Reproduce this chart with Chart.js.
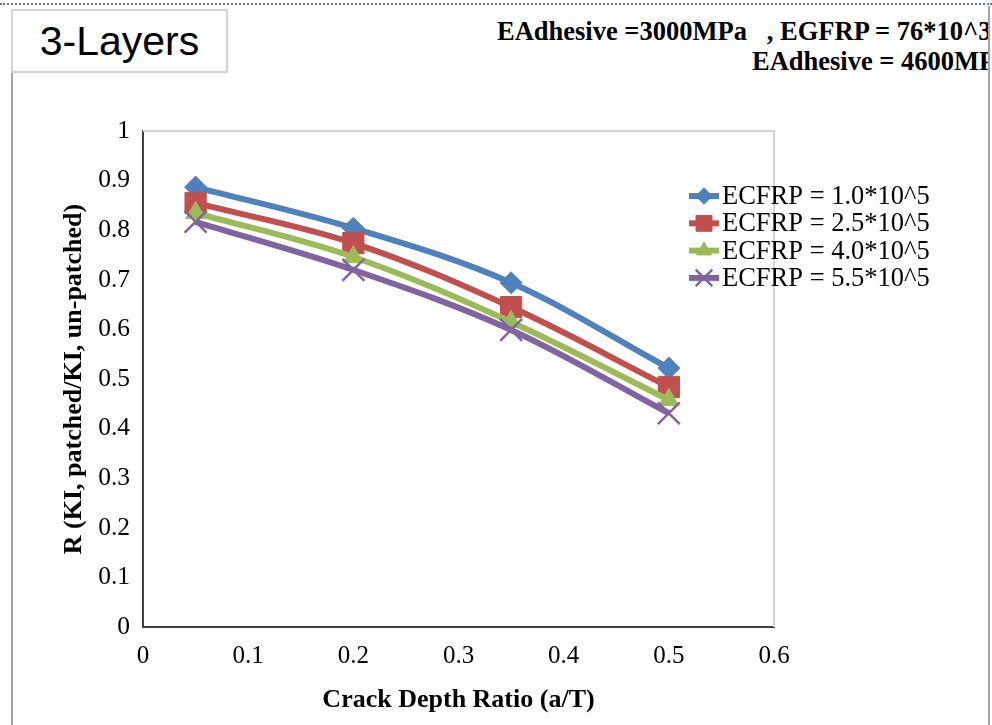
<!DOCTYPE html>
<html>
<head>
<meta charset="utf-8">
<script src="https://cdn.jsdelivr.net/npm/chart.js@4.4.0/dist/chart.umd.min.js"></script>
<style>
  body { margin: 0; background: #fff; }
  #wrap { position: relative; width: 992px; height: 725px; overflow: hidden; }
  .topline { position: absolute; left: 0; top: 3px; width: 992px; border-top: 2px dotted #6b7585; }
  .frameL { position: absolute; left: 11px; top: 72px; width: 2px; height: 660px; background: #a6a6a6; }
  .frameR { position: absolute; left: 988px; top: 6px; width: 2px; height: 720px; background: #a6a6a6; }
  .layers { position: absolute; left: 11px; top: 9px; width: 213px; height: 60px; border: 2px solid #d4d4d4;
            font: 41px 'Liberation Sans', Arial, sans-serif; color: #000; text-align: center; line-height: 60px; background: #fff; }
  .note { position: absolute; left: 0; top: 0; width: 988px; height: 90px; overflow: hidden; }
  .note div { position: absolute; white-space: pre; font: bold 26.5px 'Liberation Serif', 'Times New Roman', serif; color: #000; line-height: 26px; }
  canvas { position: absolute; left: 0; top: 0; }
</style>
</head>
<body>
<div id="wrap">
  <div class="topline"></div>
  <div class="frameL"></div>
  <div class="frameR"></div>
  <div class="layers">3-Layers</div>
  <div class="note">
    <div style="left:497px; top:18px;">EAdhesive =3000MPa   , EGFRP = 76*10^3</div>
    <div style="left:752px; top:48px;">EAdhesive = 4600MPa</div>
  </div>
  <canvas id="grafico" width="992" height="725"></canvas>
</div>
<script>
// dados
const razaoTrinca = [0.05, 0.2, 0.35, 0.5];
const rotulos = ['ECFRP = 1.0*10^5', 'ECFRP = 2.5*10^5', 'ECFRP = 4.0*10^5', 'ECFRP = 5.5*10^5'];
const serie10 = [0.887, 0.804, 0.694, 0.522];
const serie25 = [0.855, 0.774, 0.645, 0.484];
const serie40 = [0.835, 0.746, 0.615, 0.458];
const serie55 = [0.817, 0.720, 0.599, 0.431];
const ticksX = [0, 0.1, 0.2, 0.3, 0.4, 0.5, 0.6];
const ticksY = [0, 0.1, 0.2, 0.3, 0.4, 0.5, 0.6, 0.7, 0.8, 0.9, 1];

const cores = ['#4F81BD', '#C0504D', '#9BBB59', '#8064A2'];
const estilos = ['rectRot', 'rect', 'triangle', 'crossRot'];
const raios = [11, 15, 11.5, 15.5];
const bordas = [1, 1, 1, 2.5];
const series = [serie10, serie25, serie40, serie55];

const fonteSerif = "'Liberation Serif', 'Times New Roman', serif";

function montarDataset(i) {
    return {
        label: rotulos[i],
        data: razaoTrinca.map((x, k) => ({ x: x, y: series[i][k] })),
        borderColor: cores[i],
        backgroundColor: cores[i],
        borderWidth: 6,
        tension: 0.35,
        pointStyle: estilos[i],
        pointRadius: raios[i],
        pointHoverRadius: raios[i],
        pointBorderWidth: bordas[i],
        pointBackgroundColor: cores[i],
        pointBorderColor: cores[i],
        order: 4 - i,
        clip: false
    };
}

// borda clara superior e direita da área do gráfico
const bordaArea = {
    id: 'bordaArea',
    beforeDatasetsDraw(chart) {
        const a = chart.chartArea;
        const ctx = chart.ctx;
        ctx.save();
        ctx.strokeStyle = '#d4d4d4';
        ctx.lineWidth = 2;
        ctx.beginPath();
        ctx.moveTo(a.left, a.top);
        ctx.lineTo(a.right, a.top);
        ctx.lineTo(a.right, a.bottom);
        ctx.stroke();
        ctx.restore();
    }
};

// legenda desenhada sobre a área, como no original
const legendaPropria = {
    id: 'legendaPropria',
    afterDraw(chart) {
        const ctx = chart.ctx;
        ctx.save();
        chart.data.datasets.forEach((ds, i) => {
            const y = 196 + i * 27.3;
            ctx.strokeStyle = ds.borderColor;
            ctx.lineWidth = 6;
            ctx.beginPath();
            ctx.moveTo(689, y);
            ctx.lineTo(719, y);
            ctx.stroke();
            ctx.fillStyle = ds.borderColor;
            ctx.lineWidth = ds.pointBorderWidth;
            Chart.helpers.drawPoint(ctx, {
                pointStyle: ds.pointStyle,
                radius: ds.pointRadius * 0.75,
                borderWidth: ds.pointBorderWidth,
                rotation: 0
            }, 704, y);
            ctx.fillStyle = '#000';
            ctx.font = '26.5px ' + fonteSerif;
            ctx.textBaseline = 'middle';
            ctx.textAlign = 'left';
            ctx.fillText(ds.label, 722, y + 1);
        });
        ctx.restore();
    }
};

const ctx = document.getElementById('grafico').getContext('2d');
const grafico = new Chart(ctx, {
    type: 'line',
    data: { datasets: [0, 1, 2, 3].map(montarDataset) },
    options: {
        responsive: false,
        animation: false,
        layout: { padding: { left: 0, top: 131, right: 218, bottom: 0 } },
        plugins: { legend: { display: false }, tooltip: { enabled: false } },
        scales: {
            x: {
                type: 'linear',
                min: 0,
                max: 0.6,
                afterBuildTicks: s => { s.ticks = ticksX.map(v => ({ value: v })); },
                afterFit: s => { s.height = 98; },
                grid: { display: false, drawTicks: false },
                border: { display: true, color: '#404040', width: 2 },
                ticks: {
                    padding: 14,
                    color: '#000',
                    font: { family: fonteSerif, size: 25 },
                    callback: v => String(Number(v.toFixed(1)))
                },
                title: {
                    display: true,
                    text: 'Crack Depth Ratio (a/T)',
                    color: '#000',
                    font: { family: fonteSerif, size: 26, weight: 'bold' },
                    padding: { top: 0, bottom: 9 }
                }
            },
            y: {
                min: 0,
                max: 1,
                afterBuildTicks: s => { s.ticks = ticksY.map(v => ({ value: v })); },
                afterFit: s => { s.width = 143; },
                grid: { display: false, drawTicks: false },
                border: { display: true, color: '#404040', width: 2 },
                ticks: {
                    padding: 13,
                    color: '#000',
                    font: { family: fonteSerif, size: 25.5 },
                    callback: v => String(Number(v.toFixed(1)))
                },
                title: {
                    display: true,
                    text: 'R (KI, patched/KI, un-patched)',
                    color: '#000',
                    font: { family: fonteSerif, size: 26, weight: 'bold' },
                    padding: { top: 59, bottom: 0 }
                }
            }
        }
    },
    plugins: [bordaArea, legendaPropria]
});
</script>
</body>
</html>
